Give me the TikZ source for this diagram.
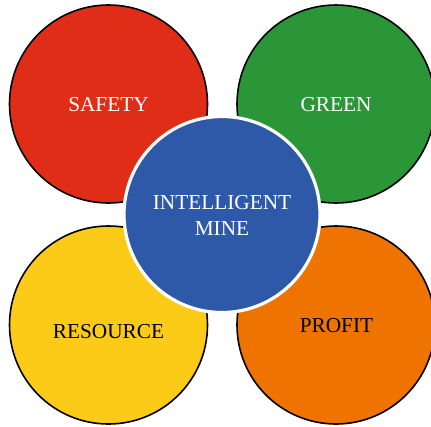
\documentclass[tikz,border=0pt]{standalone}
\usepackage{fontspec}
\setmainfont{Liberation Serif}
\definecolor{cred}{HTML}{E02D18}
\definecolor{cgreen}{HTML}{2A9638}
\definecolor{cyellow}{HTML}{FCCB17}
\definecolor{corange}{HTML}{EE7300}
\definecolor{cblue}{HTML}{2E58A8}
\begin{document}
\begin{tikzpicture}[x=1pt,y=-1pt,
  outer/.style={circle,draw=black,line width=1.6pt,minimum size=198pt,inner sep=0pt},
  hub/.style={circle,draw=white,line width=3.2pt,fill=cblue,minimum size=196pt,inner sep=0pt},
  lbl/.style={font=\fontsize{21.3}{25.5}\selectfont,align=center,inner sep=0pt}]
\useasboundingbox (0,0) rectangle (431,426);
\clip (0,0) rectangle (431,426);
\node[outer,fill=cred] (safety) at (108.5,104) {};
\node[outer,fill=cgreen] (green) at (336,104) {};
\node[outer,fill=cyellow] (resource) at (108.5,325) {};
\node[outer,fill=corange] (profit) at (336,325) {};
\node[hub] (hub) at (222,214.5) {};
\node[lbl,text=white] (tsafety) at (108.5,105) {SAFETY};
\node[lbl,text=white] (tgreen) at (336,105) {GREEN};
\node[lbl,text=black] (tresource) at (108.5,331.5) {RESOURCE};
\node[lbl,text=black] (tprofit) at (336.5,325.5) {PROFIT};
\node[lbl,text=white] (thub) at (222,215.5) {INTELLIGENT\\MINE};
\end{tikzpicture}
\end{document}
